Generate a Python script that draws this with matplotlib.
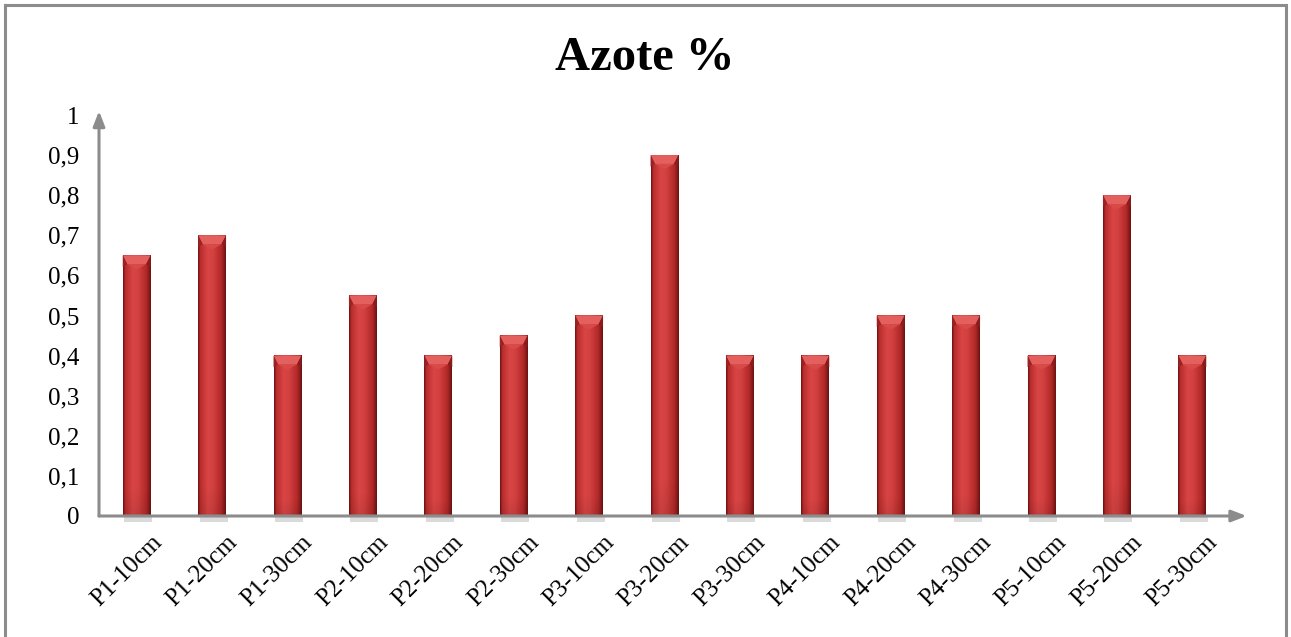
import numpy as np
import matplotlib
matplotlib.use("Agg")
import matplotlib.pyplot as plt
import matplotlib.transforms as mtransforms
from matplotlib.patches import Polygon, Rectangle
from matplotlib.colors import to_rgb

plt.rcParams['font.family'] = ['Liberation Serif', 'DejaVu Serif']

categories = ["P1-10cm", "P1-20cm", "P1-30cm", "P2-10cm", "P2-20cm", "P2-30cm",
              "P3-10cm", "P3-20cm", "P3-30cm", "P4-10cm", "P4-20cm", "P4-30cm",
              "P5-10cm", "P5-20cm", "P5-30cm"]
azote = [0.65, 0.70, 0.40, 0.55, 0.40, 0.45, 0.50, 0.90, 0.40, 0.40,
         0.50, 0.50, 0.40, 0.80, 0.40]
yticks = [0, 0.1, 0.2, 0.3, 0.4, 0.5, 0.6, 0.7, 0.8, 0.9, 1]
ytick_labels = ["0", "0,1", "0,2", "0,3", "0,4", "0,5", "0,6", "0,7", "0,8", "0,9", "1"]

W, H = 1291, 637
fig = plt.figure(figsize=(W / 100, H / 100), dpi=100)
fig.patch.set_facecolor("white")

# outer frame
fig.add_artist(Rectangle((5 / W, -0.01), (1286 - 5) / W, 1.01 - 5 / H,
                         transform=fig.transFigure, fill=False,
                         edgecolor="#8c8c8c", linewidth=2.2))

ax = fig.add_axes([99 / W, 1 - 516 / H, (1230 - 99) / W, (516 - 115) / H])
ax.set_facecolor("none")

bar_w = 0.37
dark = np.array(to_rgb("#6e1212"))
mid = np.array(to_rgb("#b52a2a"))
bright = np.array(to_rgb("#d94545"))

# horizontal shading profile for the bevelled bars
nu = 64
u = np.linspace(0, 1, nu)
prof = np.interp(u, [0, 0.08, 0.35, 0.55, 0.85, 1.0], [0.0, 0.55, 1.0, 0.9, 0.45, 0.0])
cols = np.where(prof[:, None] < 0.5,
                dark + (mid - dark) * (prof[:, None] / 0.5),
                mid + (bright - mid) * ((prof[:, None] - 0.5) / 0.5))

for i, v in enumerate(azote):
    x0 = i - bar_w / 2
    x1 = i + bar_w / 2
    nv = 80
    tv = np.linspace(0, 1, nv)  # 0 = top, 1 = bottom
    shade = 1.0 - 0.08 * np.clip((tv - 0.9) / 0.1, 0, 1)
    img = cols[None, :, :] * shade[:, None, None]
    # soft shadow below bar
    ax.add_patch(Rectangle((x0 + 0.02, -0.014), bar_w, 0.014, facecolor="#dadada",
                           edgecolor="none", clip_on=False, zorder=1))
    ax.imshow(img, extent=(x0, x1, 0, v), aspect="auto", interpolation="bilinear",
              zorder=2)
    # top bevel
    cap = 0.022
    ax.add_patch(Polygon([(x0, v), (x1, v), (x1 - 0.06, v - cap), (x0 + 0.06, v - cap)],
                         closed=True, facecolor="#e4605e", edgecolor="none", zorder=3))
    ax.add_patch(Polygon([(x0 + 0.06, v - cap), (x1 - 0.06, v - cap), (i, v - cap * 1.6)],
                         closed=True, facecolor="#d84a48", edgecolor="none", zorder=3))
    ax.add_patch(Polygon([(x0, v), (x0 + 0.06, v - cap), (x0, v - cap * 1.3)],
                         closed=True, facecolor="#9a2222", edgecolor="none", zorder=3))
    ax.add_patch(Polygon([(x1, v), (x1 - 0.06, v - cap), (x1, v - cap * 1.3)],
                         closed=True, facecolor="#8a1c1c", edgecolor="none", zorder=3))

ax.set_xlim(-0.5, len(categories) - 0.5)
ax.set_ylim(0, 1)

for s in ax.spines.values():
    s.set_visible(False)

axis_col = "#8c8c8c"
# axes with arrow heads
ax.annotate("", xy=(-0.5, 1.01), xytext=(-0.5, 0), xycoords="data",
            arrowprops=dict(arrowstyle="-|>,head_length=0.9,head_width=0.35",
                            color=axis_col, lw=2.2, shrinkA=0, shrinkB=0),
            annotation_clip=False, zorder=5)
ax.annotate("", xy=(len(categories) - 0.5 + 0.22, 0), xytext=(-0.5, 0), xycoords="data",
            arrowprops=dict(arrowstyle="-|>,head_length=0.9,head_width=0.35",
                            color=axis_col, lw=2.2, shrinkA=0, shrinkB=0),
            annotation_clip=False, zorder=5)

ax.set_yticks(yticks)
ax.set_yticklabels(ytick_labels, fontsize=18)
ax.set_xticks(range(len(categories)))
ax.set_xticklabels(categories, fontsize=18, rotation=45, ha="right", va="top",
                   rotation_mode="anchor")
ax.tick_params(axis="both", length=0)
ax.tick_params(axis="y", pad=14)
ax.tick_params(axis="x", pad=11)
shift = mtransforms.ScaledTranslation(10 / 72, 0, fig.dpi_scale_trans)
for lbl in ax.get_xticklabels():
    lbl.set_transform(lbl.get_transform() + shift)

fig.text(645 / W, 1 - 58 / H, "Azote %", ha="center", va="center",
         fontsize=35, fontweight="bold")

fig.savefig("out.png", dpi=100)
